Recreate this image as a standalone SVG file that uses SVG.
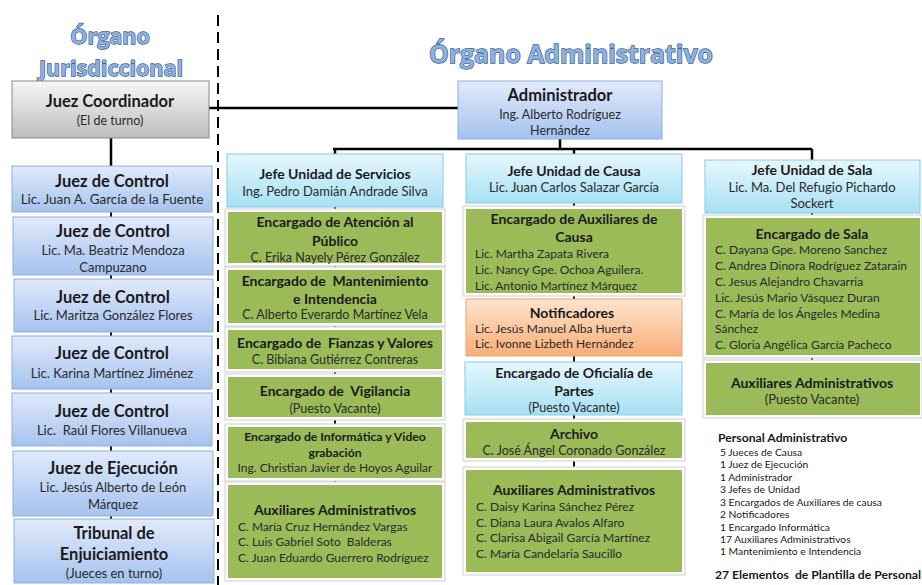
<svg xmlns="http://www.w3.org/2000/svg" width="922" height="585" viewBox="0 0 922 585">
<defs>
<linearGradient id="gBlue" x1="0" y1="0" x2="0" y2="1"><stop offset="0" stop-color="#e1eafa"/><stop offset="1" stop-color="#a5c2ef"/></linearGradient>
<linearGradient id="gCyan" x1="0" y1="0" x2="0" y2="1"><stop offset="0" stop-color="#e6f7fd"/><stop offset="1" stop-color="#a6e0f4"/></linearGradient>
<linearGradient id="gGray" x1="0" y1="0" x2="0" y2="1"><stop offset="0" stop-color="#f7f7f7"/><stop offset="1" stop-color="#bdbdbd"/></linearGradient>
<linearGradient id="gOrange" x1="0" y1="0" x2="0" y2="1"><stop offset="0" stop-color="#fde4d0"/><stop offset="1" stop-color="#f9ae76"/></linearGradient>
</defs>
<style>
text{font-family:Lato,"Liberation Sans",sans-serif;fill:#1a1a1a;dominant-baseline:central;white-space:pre}
.c{text-anchor:middle}
.b{font-weight:bold}
.t{font-size:16.5px;font-weight:bold}
.n{font-size:12.5px;fill:#2a2a2a}
.l{font-size:12px;fill:#2a2a2a}
.s{font-size:14px;font-weight:bold}
.p{font-size:10.3px}
.title{font-family:"Open Sans","Liberation Sans",sans-serif;font-weight:bold;fill:#8cb0df;stroke:#3d5f90;stroke-width:1.3px;paint-order:stroke;dominant-baseline:central;text-anchor:middle}
.blue{fill:url(#gBlue);stroke:#8eb0e0;stroke-width:1}
.cyan{fill:url(#gCyan);stroke:#86cbe4;stroke-width:1}
.gray{fill:url(#gGray);stroke:#8a8a8a;stroke-width:1}
.orange{fill:url(#gOrange);stroke:#eda06a;stroke-width:1}
.gw{fill:#ffffff;stroke:#cfcfcf;stroke-width:1}
.gr{fill:#9bbb59}
.ln{stroke:#000;fill:none;stroke-width:2.5}
.lt{stroke:#000;fill:none;stroke-width:1.8}
</style>
<rect width="922" height="585" fill="#ffffff"/>

<text class="title" x="110" y="35" font-size="21.5">Órgano</text>
<text class="title" x="111" y="67" font-size="21.5">Jurisdiccional</text>
<text class="title" x="571" y="53" font-size="24.8">Órgano Administrativo</text>

<line x1="218" y1="15" x2="218" y2="585" stroke="#000" stroke-width="2" stroke-dasharray="11,6"/>

<g id="connectors">
<path class="ln" d="M209 108 H458"/>
<path class="ln" d="M111 138 V166"/>
<path class="lt" d="M111 212 V519"/>
<path class="ln" d="M560 139 V149 M333 149 H812 M335 149 V154 M574 149 V154 M812 149 V160"/>
<path class="lt" d="M335 207 V485"/>
<path class="lt" d="M574 203 V470"/>
<path class="lt" d="M812 213 V363"/>
</g>

<g id="coordinador">
<rect class="gray" x="12" y="81" width="197" height="57"/>
<text class="c t" x="110" y="101">Juez Coordinador</text>
<text class="c n" x="110" y="120">(El de turno)</text>
</g>

<g id="administrador">
<rect class="blue" x="458" y="81" width="204" height="58"/>
<text class="c t" x="560" y="95">Administrador</text>
<text class="c n" x="560" y="114">Ing. Alberto Rodríguez</text>
<text class="c n" x="560" y="130">Hernández</text>
</g>

<g id="control1">
<rect class="blue" x="12" y="166" width="200" height="46"/>
<text class="c t" x="112" y="181">Juez de Control</text>
<text class="c n" x="112" y="199" style="font-size:13.5px">Lic. Juan A. García de la Fuente</text>
</g>
<g id="control2">
<rect class="blue" x="13" y="217" width="200" height="58"/>
<text class="c t" x="113" y="231">Juez de Control</text>
<text class="c n" x="113" y="250" style="font-size:13px">Lic. Ma. Beatriz Mendoza</text>
<text class="c n" x="113" y="267" style="font-size:13px">Campuzano</text>
</g>
<g id="control3">
<rect class="blue" x="14" y="279" width="199" height="53"/>
<text class="c t" x="113" y="297">Juez de Control</text>
<text class="c n" x="113" y="315" style="font-size:13px">Lic. Maritza González Flores</text>
</g>
<g id="control4">
<rect class="blue" x="12" y="336" width="200" height="53"/>
<text class="c t" x="112" y="353">Juez de Control</text>
<text class="c n" x="112" y="373" style="font-size:13px">Lic. Karina Martínez Jiménez</text>
</g>
<g id="control5">
<rect class="blue" x="12" y="393" width="200" height="53"/>
<text class="c t" x="112" y="411">Juez de Control</text>
<text class="c n" x="112" y="430" style="font-size:13px">Lic.  Raúl Flores Villanueva</text>
</g>
<g id="ejecucion">
<rect class="blue" x="13" y="451" width="200" height="65"/>
<text class="c t" x="113" y="468">Juez de Ejecución</text>
<text class="c n" x="113" y="487" style="font-size:13px">Lic. Jesús Alberto de León</text>
<text class="c n" x="113" y="504" style="font-size:13px">Márquez</text>
</g>
<g id="tribunal">
<rect class="blue" x="14" y="519" width="200" height="64"/>
<text class="c t" x="114" y="533">Tribunal de</text>
<text class="c t" x="114" y="554">Enjuiciamiento</text>
<text class="c n" x="114" y="573" style="font-size:13px">(Jueces en turno)</text>
</g>

<g id="jefe-servicios">
<rect class="cyan" x="227" y="154" width="216" height="53"/>
<text class="c s" x="335" y="173">Jefe Unidad de Servicios</text>
<text class="c n" x="335" y="191" style="font-size:13px">Ing. Pedro Damián Andrade Silva</text>
</g>
<g id="atencion">
<rect class="gw" x="225" y="209" width="220" height="57"/>
<rect class="gr" x="228" y="212" width="214" height="51"/>
<text class="c s" x="335" y="221">Encargado de Atención al</text>
<text class="c s" x="335" y="240">Público</text>
<text class="c n" x="335" y="257">C. Erika Nayely Pérez González</text>
</g>
<g id="mantenimiento">
<rect class="gw" x="225" y="267" width="220" height="59"/>
<rect class="gr" x="228" y="270" width="214" height="53"/>
<text class="c s" x="335" y="280">Encargado de  Mantenimiento</text>
<text class="c s" x="335" y="298">e Intendencia</text>
<text class="c n" x="335" y="314">C. Alberto Everardo Martínez Vela</text>
</g>
<g id="fianzas">
<rect class="gw" x="225" y="327" width="220" height="45"/>
<rect class="gr" x="228" y="330" width="214" height="39"/>
<text class="c s" x="335" y="342">Encargado de  Fianzas y Valores</text>
<text class="c n" x="335" y="359">C. Bibiana Gutiérrez Contreras</text>
</g>
<g id="vigilancia">
<rect class="gw" x="225" y="374" width="220" height="46"/>
<rect class="gr" x="228" y="377" width="214" height="40"/>
<text class="c s" x="335" y="390">Encargado de  Vigilancia</text>
<text class="c n" x="335" y="408">(Puesto Vacante)</text>
</g>
<g id="informatica">
<rect class="gw" x="225" y="424" width="220" height="57"/>
<rect class="gr" x="228" y="427" width="214" height="51"/>
<text class="c s" x="335" y="436" style="font-size:12.2px">Encargado de Informática y Video</text>
<text class="c s" x="335" y="452" style="font-size:12.2px">grabación</text>
<text class="c n" x="335" y="467" style="font-size:12px">Ing. Christian Javier de Hoyos Aguilar</text>
</g>
<g id="aux-servicios">
<rect class="gw" x="225" y="482" width="220" height="99"/>
<rect class="gr" x="228" y="485" width="214" height="93"/>
<text class="c s" x="335" y="509">Auxiliares Administrativos</text>
<text class="l" x="238" y="526">C. María Cruz Hernández Vargas</text>
<text class="l" x="238" y="541">C. Luis Gabriel Soto  Balderas</text>
<text class="l" x="238" y="557">C. Juan Eduardo Guerrero Rodríguez</text>
</g>

<g id="jefe-causa">
<rect class="cyan" x="466" y="154" width="216" height="49"/>
<text class="c s" x="574" y="170">Jefe Unidad de Causa</text>
<text class="c n" x="574" y="187" style="font-size:13px">Lic. Juan Carlos Salazar García</text>
</g>
<g id="aux-causa">
<rect class="gw" x="463" y="206" width="222" height="90"/>
<rect class="gr" x="466" y="209" width="216" height="84"/>
<text class="c s" x="574" y="218">Encargado de Auxiliares de</text>
<text class="c s" x="574" y="236">Causa</text>
<text class="l" x="475" y="253">Lic. Martha Zapata Rivera</text>
<text class="l" x="475" y="269">Lic. Nancy Gpe. Ochoa Aguilera.</text>
<text class="l" x="475" y="285">Lic. Antonio Martínez Márquez</text>
</g>
<g id="notificadores">
<rect class="orange" x="466" y="299" width="216" height="57"/>
<text class="c s" x="572" y="312">Notificadores</text>
<text class="l" x="475" y="328">Lic. Jesús Manuel Alba Huerta</text>
<text class="l" x="475" y="343">Lic. Ivonne Lizbeth Hernández</text>
</g>
<g id="oficialia">
<rect class="cyan" x="465" y="362" width="217" height="53"/>
<text class="c s" x="574" y="372">Encargado de Oficialía de</text>
<text class="c s" x="574" y="390">Partes</text>
<text class="c n" x="574" y="407">(Puesto Vacante)</text>
</g>
<g id="archivo">
<rect class="gw" x="463" y="419" width="222" height="42"/>
<rect class="gr" x="466" y="422" width="216" height="36"/>
<text class="c s" x="574" y="433">Archivo</text>
<text class="c n" x="574" y="450">C. José Ángel Coronado González</text>
</g>
<g id="aux-causa2">
<rect class="gw" x="463" y="467" width="222" height="108"/>
<rect class="gr" x="466" y="470" width="216" height="102"/>
<text class="c s" x="574" y="489">Auxiliares Administrativos</text>
<text class="l" x="476" y="506">C. Daisy Karina Sánchez Pérez</text>
<text class="l" x="476" y="522">C. Diana Laura Avalos Alfaro</text>
<text class="l" x="476" y="537">C. Clarisa Abigail García Martínez</text>
<text class="l" x="476" y="553">C. María Candelaria Saucillo</text>
</g>

<g id="jefe-sala">
<rect class="cyan" x="705" y="160" width="215" height="53"/>
<text class="c s" x="812" y="169">Jefe Unidad de Sala</text>
<text class="c n" x="812" y="187" style="font-size:13px">Lic. Ma. Del Refugio Pichardo</text>
<text class="c n" x="812" y="203" style="font-size:13px">Sockert</text>
</g>
<g id="sala">
<rect class="gw" x="703" y="215" width="219" height="143"/>
<rect class="gr" x="706" y="218" width="214" height="137"/>
<text class="c s" x="812" y="233">Encargado de Sala</text>
<text class="l" x="715" y="249">C. Dayana Gpe. Moreno Sanchez</text>
<text class="l" x="715" y="265">C. Andrea Dinora Rodríguez Zatarain</text>
<text class="l" x="715" y="281">C. Jesus Alejandro Chavarria</text>
<text class="l" x="715" y="297">Lic. Jesús Mario Vásquez Duran</text>
<text class="l" x="715" y="313">C. María de los Ángeles Medina</text>
<text class="l" x="715" y="328">Sánchez</text>
<text class="l" x="715" y="344">C. Gloria Angélica García Pacheco</text>
</g>
<g id="aux-sala">
<rect class="gw" x="703" y="360" width="219" height="58"/>
<rect class="gr" x="706" y="363" width="214" height="52"/>
<text class="c s" x="812" y="382">Auxiliares Administrativos</text>
<text class="c n" x="812" y="399" style="font-size:13px">(Puesto Vacante)</text>
</g>

<g id="resumen">
<text class="b" x="718" y="437" style="font-size:12.2px">Personal Administrativo</text>
<text class="p" x="720" y="452">5 Jueces de Causa</text>
<text class="p" x="720" y="464">1 Juez de Ejecución</text>
<text class="p" x="720" y="477">1 Administrador</text>
<text class="p" x="720" y="489">3 Jefes de Unidad</text>
<text class="p" x="720" y="502">3 Encargados de Auxiliares de causa</text>
<text class="p" x="720" y="514">2 Notificadores</text>
<text class="p" x="720" y="527">1 Encargado Informática</text>
<text class="p" x="720" y="539">17 Auxiliares Administrativos</text>
<text class="p" x="720" y="551">1 Mantenimiento e Intendencia</text>
<text class="b" x="715" y="574" style="font-size:12.2px">27 Elementos  de Plantilla de Personal</text>
</g>
</svg>
